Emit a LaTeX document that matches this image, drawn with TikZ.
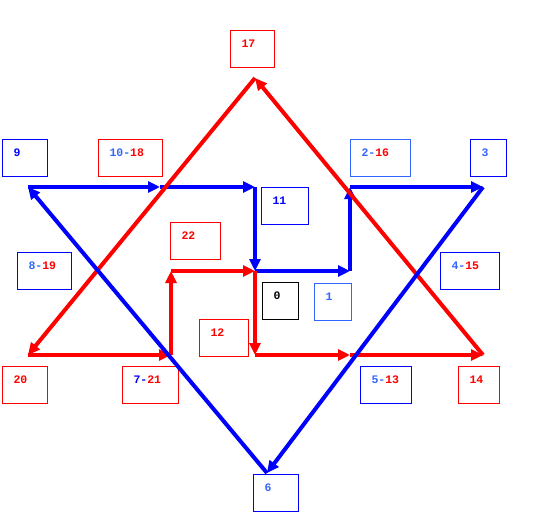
\documentclass[tikz,border=0pt]{standalone}
\usepackage{fontspec}
\setmonofont{Liberation Mono}
\usetikzlibrary{arrows.meta}
\definecolor{ltblue}{RGB}{51,102,255}

\begin{document}
\begin{tikzpicture}[x=1pt, y=-1pt,
  every node/.style={font=\ttfamily\bfseries\fontsize{11.5}{12}\selectfont},
  numbox/.style={draw, line width=1pt, anchor=north west, align=left,
    inner xsep=11pt, inner ysep=0pt, text height=17pt, text depth=19.5pt},
  seg/.style={line width=4pt, -{Triangle[length=12pt,width=11pt]}}]
  \useasboundingbox (0,0) rectangle (558,523);

  % number boxes
  \node[numbox, draw=red, text width=22pt] (n17) at (230,30) {\textcolor{red}{17}};
  \node[numbox, draw=blue, text width=23pt] (n9) at (2,139) {\textcolor{blue}{9}};
  \node[numbox, draw=red, text width=42pt] (n10) at (98,139) {\textcolor{ltblue}{10-}\textcolor{red}{18}};
  \node[numbox, draw=ltblue, text width=38pt] (n2) at (350,139) {\textcolor{ltblue}{2-}\textcolor{red}{16}};
  \node[numbox, draw=blue, text width=14pt] (n3) at (470,139) {\textcolor{ltblue}{3}};
  \node[numbox, draw=blue, text width=25pt] (n11) at (261,187) {\textcolor{blue}{11}};
  \node[numbox, draw=red, text width=28pt] (n22) at (170,222) {\textcolor{red}{22}};
  \node[numbox, draw=blue, text width=32pt] (n8) at (17,252) {\textcolor{ltblue}{8-}\textcolor{red}{19}};
  \node[numbox, draw=blue, text width=37pt] (n4) at (440,252) {\textcolor{ltblue}{4-}\textcolor{red}{15}};
  \node[numbox, draw=black, text width=14pt] (n0) at (262,282) {0};
  \node[numbox, draw=ltblue, text width=15pt] (n1) at (314,283) {\textcolor{ltblue}{1}};
  \node[numbox, draw=red, text width=27pt] (n12) at (199,319) {\textcolor{red}{12}};
  \node[numbox, draw=red, text width=23pt] (n20) at (2,366) {\textcolor{red}{20}};
  \node[numbox, draw=red, text width=34pt] (n7) at (122,366) {\textcolor{blue}{7-}\textcolor{red}{21}};
  \node[numbox, draw=blue, text width=29pt] (n5) at (360,366) {\textcolor{ltblue}{5-}\textcolor{red}{13}};
  \node[numbox, draw=red, text width=19pt] (n14) at (458,366) {\textcolor{red}{14}};
  \node[numbox, draw=blue, text width=23pt] (n6) at (253,474) {\textcolor{ltblue}{6}};

  % corners of the walk
  \coordinate (c9) at (28,187);
  \coordinate (c10) at (160,187);
  \coordinate (c11) at (255,187);
  \coordinate (c0) at (255,271);
  \coordinate (c1) at (350,271);
  \coordinate (c2) at (350,187);
  \coordinate (c3) at (483,187);
  \coordinate (c6) at (267,473);
  \coordinate (c12) at (255,355);
  \coordinate (c13) at (350,355);
  \coordinate (c14) at (483,355);
  \coordinate (c17) at (255,78);
  \coordinate (c20) at (28,355);
  \coordinate (c21) at (171,355);
  \coordinate (c22) at (171,271);

  % blue walk, straight part
  \draw[seg, blue] (c9) -- (c10);
  \draw[seg, blue] (c10) -- (c11);
  \draw[seg, blue] (c11) -- (c0);
  \draw[seg, blue] (c0) -- (c1);
  \draw[seg, blue] (c1) -- (c2);
  \draw[seg, blue] (c2) -- (c3);

  % red walk
  \draw[seg, red] (c0) -- (c12);
  \draw[seg, red] (c12) -- (c13);
  \draw[seg, red] (c13) -- (c14);
  \draw[seg, red] (c14) -- (c17);
  \draw[seg, red] (c17) -- (c20);
  \draw[seg, red] (c20) -- (c21);
  \draw[seg, red] (c21) -- (c22);
  \draw[seg, red] (c22) -- (c0);

  % blue walk, diagonals
  \draw[seg, blue] (c3) -- (c6);
  \draw[seg, blue] (c6) -- (c9);
\end{tikzpicture}
\end{document}
